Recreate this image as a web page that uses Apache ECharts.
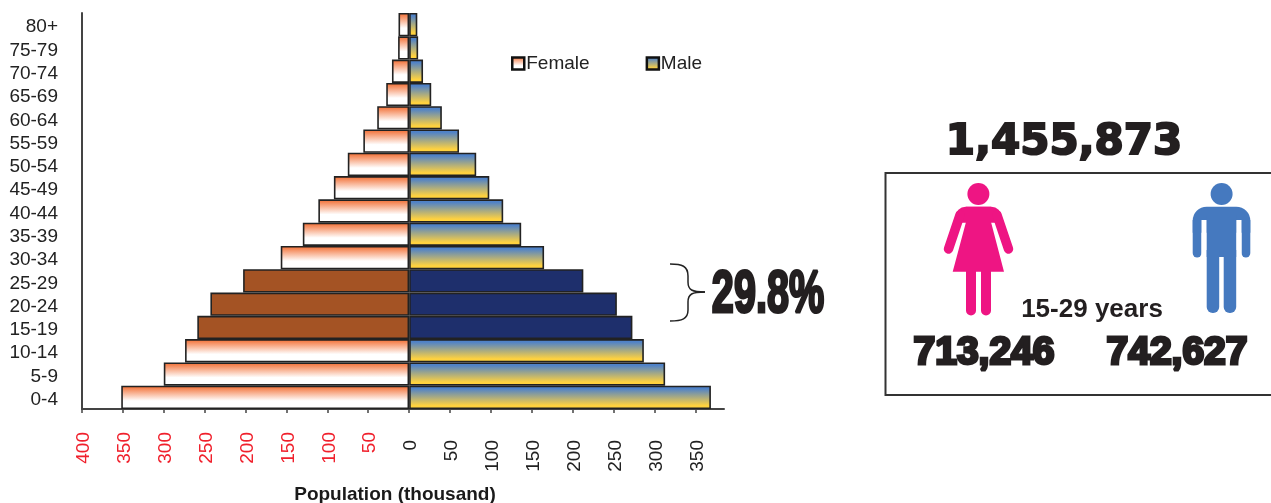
<!DOCTYPE html>
<html>
<head>
<meta charset="utf-8">
<script src="https://cdn.jsdelivr.net/npm/echarts@6/dist/echarts.min.js"></script>
<style>
  html, body { margin: 0; padding: 0; background: #fff; }
  #chart { width: 1271px; height: 503px; }
</style>
</head>
<body>
<div id="chart"></div>
<script>
const ageGroups = ['0-4', '5-9', '10-14', '15-19', '20-24', '25-29', '30-34', '35-39', '40-44',
    '45-49', '50-54', '55-59', '60-64', '65-69', '70-74', '75-79', '80+'];
const femaleValues = [352, 300, 274, 259, 243, 203, 157, 130, 111, 92, 75, 56, 39, 28, 21, 13.5, 13];
const maleValues = [369, 313, 287, 273, 254, 213, 165, 137, 115, 98, 82, 61, 40, 27, 17, 11, 10];
const youthGroups = ['15-19', '20-24', '25-29'];

const chart = echarts.init(document.getElementById('chart'));

const FONT = '"Liberation Sans", Arial, sans-serif';
const INK = '#231f20';
const femaleFill = new echarts.graphic.LinearGradient(0, 0, 0, 1, [
    { offset: 0, color: '#f2692c' },
    { offset: 0.65, color: '#ffffff' },
    { offset: 1, color: '#ffffff' }
]);
const maleFill = new echarts.graphic.LinearGradient(0, 0, 0, 1, [
    { offset: 0, color: '#4f82c8' },
    { offset: 0.12, color: '#4f82c8' },
    { offset: 0.85, color: '#ffd23f' },
    { offset: 1, color: '#ffd23f' }
]);

function barData(values, sign, youthColor) {
    return values.map(function (v, i) {
        if (youthGroups.indexOf(ageGroups[i]) >= 0) {
            return { value: sign * v, itemStyle: { color: youthColor } };
        }
        return sign * v;
    });
}

function boldText(text, x, y, size, family, stroke, scaleX) {
    return {
        type: 'text',
        x: x,
        y: y,
        scaleX: scaleX || 1,
        style: {
            text: text,
            fill: INK,
            stroke: INK,
            lineWidth: stroke,
            font: 'bold ' + size + 'px ' + family,
            textAlign: 'center',
            textVerticalAlign: 'middle'
        }
    };
}

function braceCurve(x1, y1, cpx1, cpy1, cpx2, cpy2, x2, y2) {
    return {
        type: 'bezierCurve',
        shape: { x1: x1, y1: y1, cpx1: cpx1, cpy1: cpy1, cpx2: cpx2, cpy2: cpy2, x2: x2, y2: y2 },
        style: { fill: 'none', stroke: '#222', lineWidth: 1.5 }
    };
}

const PINK = '#ee1583';
const BLUE = '#4579bf';

const brace = [
    braceCurve(670, 264, 682, 264, 688, 266, 688, 276),
    braceCurve(688, 276, 688, 278, 688, 280, 688, 282),
    braceCurve(688, 282, 688, 290, 692, 292, 705, 292),
    braceCurve(705, 292, 692, 292, 688, 294, 688, 302),
    braceCurve(688, 302, 688, 304, 688, 308, 688, 310),
    braceCurve(688, 310, 688, 319, 682, 321, 670, 321)
];

const femaleIcon = [
    { type: 'circle', shape: { cx: 978.4, cy: 194, r: 11 }, style: { fill: PINK } },
    { type: 'rect', shape: { x: 955.5, y: 206.7, width: 46, height: 16, r: [10, 10, 0, 0] }, style: { fill: PINK } },
    { type: 'polygon', shape: { points: [[966, 206.7], [991, 206.7], [991, 222], [1004, 271.7], [952.7, 271.7], [966, 222]] }, style: { fill: PINK } },
    { type: 'polyline', shape: { points: [[960, 215], [948.5, 249]] }, style: { stroke: PINK, lineWidth: 9.5, lineCap: 'round', fill: 'none' } },
    { type: 'polyline', shape: { points: [[997, 215], [1008.5, 249]] }, style: { stroke: PINK, lineWidth: 9.5, lineCap: 'round', fill: 'none' } },
    { type: 'rect', shape: { x: 966, y: 268, width: 10, height: 47.5, r: [0, 0, 5, 5] }, style: { fill: PINK } },
    { type: 'rect', shape: { x: 981, y: 268, width: 10, height: 47.5, r: [0, 0, 5, 5] }, style: { fill: PINK } }
];

const maleIcon = [
    { type: 'circle', shape: { cx: 1221.6, cy: 194, r: 11 }, style: { fill: BLUE } },
    { type: 'rect', shape: { x: 1192.7, y: 206.7, width: 57.6, height: 26, r: [14, 14, 0, 0] }, style: { fill: BLUE } },
    { type: 'rect', shape: { x: 1192.7, y: 220, width: 8.8, height: 37.5, r: [0, 0, 4.4, 4.4] }, style: { fill: BLUE } },
    { type: 'rect', shape: { x: 1241.5, y: 220, width: 8.8, height: 37.5, r: [0, 0, 4.4, 4.4] }, style: { fill: BLUE } },
    { type: 'rect', shape: { x: 1201.5, y: 220, width: 5.2, height: 40 }, style: { fill: '#fff' } },
    { type: 'rect', shape: { x: 1236.2, y: 220, width: 5.3, height: 40 }, style: { fill: '#fff' } },
    { type: 'rect', shape: { x: 1206.7, y: 215, width: 29.5, height: 42 }, style: { fill: BLUE } },
    { type: 'rect', shape: { x: 1206.7, y: 250, width: 12.5, height: 63, r: [0, 0, 6, 6] }, style: { fill: BLUE } },
    { type: 'rect', shape: { x: 1223.7, y: 250, width: 12.5, height: 63, r: [0, 0, 6, 6] }, style: { fill: BLUE } }
];

const option = {
    backgroundColor: '#fff',
    animation: false,
    textStyle: { fontFamily: FONT },
    legend: {
        left: 511,
        top: 54,
        itemWidth: 12,
        itemHeight: 12,
        itemGap: 56,
        icon: 'rect',
        padding: 0,
        itemStyle: { borderColor: '#111', borderWidth: 2.5 },
        textStyle: { fontSize: 19, color: '#222', fontFamily: FONT, padding: [0, 0, 0, -3] },
        data: ['Female', 'Male']
    },
    grid: { left: 82, top: 13, width: 642, height: 396, outerBoundsMode: 'none' },
    xAxis: {
        type: 'value',
        min: -400,
        max: 385,
        interval: 50,
        splitLine: { show: false },
        axisLine: { show: true, lineStyle: { color: '#444', width: 2 } },
        axisTick: { show: true, length: 4, lineStyle: { color: '#444', width: 1.5 } },
        axisLabel: {
            rotate: 90,
            margin: 23,
            fontSize: 19,
            showMaxLabel: false,
            formatter: function (v) {
                return v < 0 ? '{red|' + Math.abs(v) + '}' : '{blk|' + v + '}';
            },
            rich: {
                red: { color: '#f0202c', fontSize: 19, fontFamily: FONT, padding: [4, 0, 0, 0] },
                blk: { color: '#222', fontSize: 19, fontFamily: FONT, padding: [4, 8, 0, 0] }
            }
        },
        name: 'Population (thousand)',
        nameLocation: 'middle',
        nameGap: 76,
        nameTextStyle: { fontWeight: 'bold', fontSize: 19, color: '#1a1a1a', fontFamily: FONT, padding: [0, 16, 0, 0] }
    },
    yAxis: {
        type: 'category',
        data: ageGroups,
        axisLine: { show: true, onZero: false, lineStyle: { color: '#444', width: 2 } },
        axisTick: { show: false },
        axisLabel: {
            interval: 0,
            margin: 24,
            formatter: '{age|{value}}',
            rich: {
                age: { fontSize: 19, color: '#222', fontFamily: FONT, padding: [5, 0, 0, 0] }
            }
        }
    },
    series: [
        {
            name: 'Female',
            type: 'bar',
            stack: 'population',
            barWidth: '100%',
            itemStyle: { color: femaleFill, borderColor: '#222', borderWidth: 1.6 },
            data: barData(femaleValues, -1, '#a45324')
        },
        {
            name: 'Male',
            type: 'bar',
            stack: 'population',
            barWidth: '100%',
            itemStyle: { color: maleFill, borderColor: '#222', borderWidth: 1.6 },
            data: barData(maleValues, 1, '#1e2f6c')
        }
    ],
    graphic: brace.concat([
        boldText('29.8%', 768, 295, 60, FONT, 3, 0.66),
        boldText('1,455,873', 1064, 143, 42, '"DejaVu Sans", sans-serif', 2),
        {
            type: 'rect',
            shape: { x: 885.5, y: 173, width: 400, height: 222 },
            style: { fill: 'none', stroke: '#333', lineWidth: 2 }
        }
    ], femaleIcon, maleIcon, [
        {
            type: 'text',
            x: 1092,
            y: 310,
            style: { text: '15-29 years', fill: INK, font: 'bold 26px ' + FONT, textAlign: 'center', textVerticalAlign: 'middle' }
        },
        boldText('713,246', 984, 353, 39, FONT, 3),
        boldText('742,627', 1177, 353, 39, FONT, 3)
    ])
};

chart.setOption(option);
</script>
</body>
</html>
